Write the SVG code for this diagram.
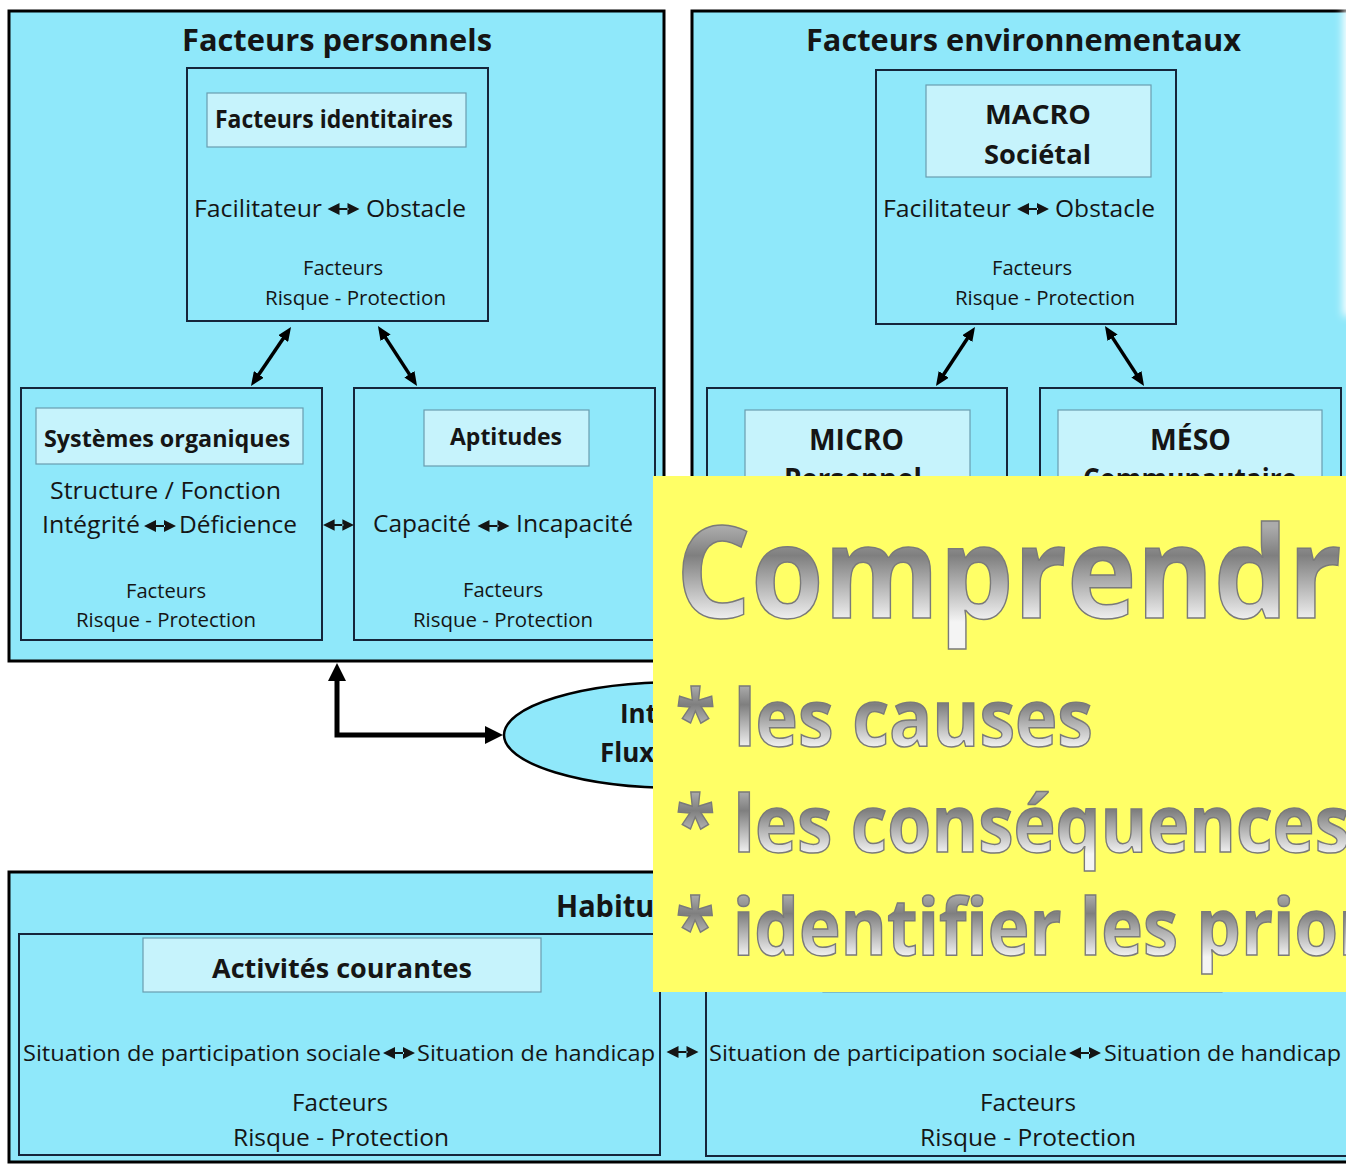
<svg xmlns="http://www.w3.org/2000/svg" width="1346" height="1164" viewBox="0 0 1346 1164">
<style>
.box{fill:#8fe8fa;stroke:#000;stroke-width:3}
.inner{fill:#8fe8fa;stroke:#15253a;stroke-width:2}
.label{fill:#c6f3fc;stroke:#6a9db0;stroke-width:1.2}
text{font-family:"Open Sans","Noto Sans","Liberation Sans",sans-serif;fill:#151515}
.b{font-weight:700}
.s20{font-size:20px}
.s24{font-size:24px}
.big{font-weight:700;stroke:#7a7a7a;stroke-width:1.5}
.con{fill:none;stroke:#000}
</style>
<defs>
<symbol id="dbl" viewBox="0 0 32 12">
<path d="M0,6 L12,0 L12,12 Z M32,6 L20,0 L20,12 Z M11,5 H21 V7 H11 Z" fill="#151515"/>
</symbol>
<marker id="mh" viewBox="0 0 14 12" refX="4" refY="6" markerWidth="14" markerHeight="12" markerUnits="userSpaceOnUse" orient="auto-start-reverse">
<path d="M0,0 L14,6 L0,12 Z" fill="#000"/>
</marker>
<marker id="bh" viewBox="0 0 18 18" refX="6" refY="9" markerWidth="18" markerHeight="18" markerUnits="userSpaceOnUse" orient="auto-start-reverse">
<path d="M0,0 L18,9 L0,18 Z" fill="#000"/>
</marker>
<linearGradient id="g1" gradientUnits="userSpaceOnUse" x1="0" y1="527" x2="0" y2="622">
<stop offset="0" stop-color="#ababab"/><stop offset="0.3" stop-color="#7f7f7f"/><stop offset="1" stop-color="#f4f4f4"/>
</linearGradient>
<linearGradient id="g2" gradientUnits="userSpaceOnUse" x1="0" y1="686" x2="0" y2="748">
<stop offset="0" stop-color="#ababab"/><stop offset="0.3" stop-color="#7f7f7f"/><stop offset="1" stop-color="#f4f4f4"/>
</linearGradient>
<linearGradient id="g3" gradientUnits="userSpaceOnUse" x1="0" y1="792" x2="0" y2="854">
<stop offset="0" stop-color="#ababab"/><stop offset="0.3" stop-color="#7f7f7f"/><stop offset="1" stop-color="#f4f4f4"/>
</linearGradient>
<linearGradient id="g4" gradientUnits="userSpaceOnUse" x1="0" y1="895" x2="0" y2="957">
<stop offset="0" stop-color="#ababab"/><stop offset="0.3" stop-color="#7f7f7f"/><stop offset="1" stop-color="#f4f4f4"/>
</linearGradient>
<filter id="blur" x="-1" y="-0.2" width="3" height="1.4"><feGaussianBlur stdDeviation="4"/></filter>
</defs>
<rect width="1346" height="1164" fill="#fff"/>

<g id="facteurs-personnels">
<rect class="box" x="9" y="11" width="655" height="650"/>
<text class="b" x="182" y="51" font-size="30" textLength="310" lengthAdjust="spacingAndGlyphs">Facteurs personnels</text>
</g>

<g id="facteurs-identitaires">
<rect class="inner" x="187" y="68" width="301" height="253"/>
<rect class="label" x="207" y="93" width="259" height="54"/>
<text class="b" x="215" y="128" font-size="25" textLength="238" lengthAdjust="spacingAndGlyphs">Facteurs identitaires</text>
<text x="194" y="217" font-size="23.5" textLength="128" lengthAdjust="spacingAndGlyphs">Facilitateur</text>
<use href="#dbl" x="327" y="203" width="33" height="12"/>
<text x="366" y="217" font-size="23.5" textLength="100" lengthAdjust="spacingAndGlyphs">Obstacle</text>
<text x="303" y="275" font-size="19.5" textLength="80" lengthAdjust="spacingAndGlyphs">Facteurs</text>
<text x="265" y="305" font-size="19.5" textLength="181" lengthAdjust="spacingAndGlyphs">Risque - Protection</text>
</g>

<g id="systemes-organiques">
<rect class="inner" x="21" y="388" width="301" height="252"/>
<rect class="label" x="36" y="408" width="267" height="56"/>
<text class="b s24" x="44" y="447" textLength="246" lengthAdjust="spacingAndGlyphs">Systèmes organiques</text>
<text class="s24" x="50" y="499" textLength="231" lengthAdjust="spacingAndGlyphs">Structure / Fonction</text>
<text class="s24" x="42" y="533" textLength="98" lengthAdjust="spacingAndGlyphs">Intégrité</text>
<use href="#dbl" x="143" y="520" width="34" height="12"/>
<text class="s24" x="179" y="533" textLength="118" lengthAdjust="spacingAndGlyphs">Déficience</text>
<text class="s20" x="126" y="598" textLength="80" lengthAdjust="spacingAndGlyphs">Facteurs</text>
<text class="s20" x="76" y="627" textLength="180" lengthAdjust="spacingAndGlyphs">Risque - Protection</text>
</g>

<g id="aptitudes">
<rect class="inner" x="354" y="388" width="301" height="252"/>
<rect class="label" x="424" y="410" width="165" height="56"/>
<text class="b s24" x="450" y="445" textLength="112" lengthAdjust="spacingAndGlyphs">Aptitudes</text>
<text class="s24" x="373" y="532" textLength="98" lengthAdjust="spacingAndGlyphs">Capacité</text>
<use href="#dbl" x="476" y="520" width="35" height="12"/>
<text class="s24" x="516" y="532" textLength="117" lengthAdjust="spacingAndGlyphs">Incapacité</text>
<text class="s20" x="463" y="597" textLength="80" lengthAdjust="spacingAndGlyphs">Facteurs</text>
<text class="s20" x="413" y="627" textLength="180" lengthAdjust="spacingAndGlyphs">Risque - Protection</text>
</g>

<g id="facteurs-environnementaux">
<rect class="box" x="692" y="11" width="680" height="650"/>
<text class="b" x="806" y="51" font-size="30" textLength="435" lengthAdjust="spacingAndGlyphs">Facteurs environnementaux</text>
</g>

<g id="macro">
<rect class="inner" x="876" y="70" width="300" height="254"/>
<rect class="label" x="926" y="85" width="225" height="92"/>
<text class="b" x="985" y="124" font-size="27" textLength="106" lengthAdjust="spacingAndGlyphs">MACRO</text>
<text class="b" x="984" y="164" font-size="27" textLength="107" lengthAdjust="spacingAndGlyphs">Sociétal</text>
<text x="883" y="217" font-size="23.5" textLength="128" lengthAdjust="spacingAndGlyphs">Facilitateur</text>
<use href="#dbl" x="1016" y="203" width="34" height="12"/>
<text x="1055" y="217" font-size="23.5" textLength="100" lengthAdjust="spacingAndGlyphs">Obstacle</text>
<text x="992" y="275" font-size="19.5" textLength="80" lengthAdjust="spacingAndGlyphs">Facteurs</text>
<text x="955" y="305" font-size="19.5" textLength="180" lengthAdjust="spacingAndGlyphs">Risque - Protection</text>
</g>

<g id="micro">
<rect class="inner" x="707" y="388" width="300" height="252"/>
<rect class="label" x="745" y="410" width="225" height="92"/>
<text class="b" x="809" y="450" font-size="28" textLength="95" lengthAdjust="spacingAndGlyphs">MICRO</text>
<text class="b" x="784" y="489" font-size="28" textLength="138" lengthAdjust="spacingAndGlyphs">Personnel</text>
</g>

<g id="meso">
<rect class="inner" x="1040" y="388" width="301" height="252"/>
<rect class="label" x="1058" y="410" width="264" height="92"/>
<text class="b" x="1150" y="450" font-size="28" textLength="81" lengthAdjust="spacingAndGlyphs">MÉSO</text>
<text class="b" x="1083" y="489" font-size="28" textLength="214" lengthAdjust="spacingAndGlyphs">Communautaire</text>
</g>

<g id="interaction">
<ellipse cx="680" cy="735" rx="176" ry="53" fill="#8fe8fa" stroke="#000" stroke-width="2.5"/>
<text class="b" x="620" y="723" font-size="26">Interaction</text>
<text class="b" x="600" y="762" font-size="26">Flux</text>
</g>

<g id="habitudes-de-vie">
<rect class="box" x="9" y="872" width="1360" height="290"/>
<text class="b" x="556" y="917" font-size="31" textLength="241" lengthAdjust="spacingAndGlyphs">Habitudes de vie</text>
</g>

<g id="activites-courantes">
<rect class="inner" x="19" y="934" width="641" height="221"/>
<rect class="label" x="143" y="938" width="398" height="54"/>
<text class="b" x="212" y="978" font-size="27" textLength="260" lengthAdjust="spacingAndGlyphs">Activités courantes</text>
<text x="23" y="1061" font-size="22.5" textLength="358" lengthAdjust="spacingAndGlyphs">Situation de participation sociale</text>
<use href="#dbl" x="383" y="1047" width="32" height="12"/>
<text x="417" y="1061" font-size="22.5" textLength="238" lengthAdjust="spacingAndGlyphs">Situation de handicap</text>
<text class="s24" x="292" y="1111" textLength="96" lengthAdjust="spacingAndGlyphs">Facteurs</text>
<text class="s24" x="233" y="1146" textLength="216" lengthAdjust="spacingAndGlyphs">Risque - Protection</text>
</g>

<g id="roles-sociaux">
<rect class="inner" x="706" y="934" width="660" height="222"/>
<rect class="label" x="823" y="938" width="399" height="54"/>
<text x="709" y="1061" font-size="22.5" textLength="358" lengthAdjust="spacingAndGlyphs">Situation de participation sociale</text>
<use href="#dbl" x="1069" y="1047" width="32" height="12"/>
<text x="1104" y="1061" font-size="22.5" textLength="237" lengthAdjust="spacingAndGlyphs">Situation de handicap</text>
<text class="s24" x="980" y="1111" textLength="96" lengthAdjust="spacingAndGlyphs">Facteurs</text>
<text class="s24" x="920" y="1146" textLength="216" lengthAdjust="spacingAndGlyphs">Risque - Protection</text>
</g>

<g id="connectors">
<line class="con" stroke-width="3.5" x1="285.4" y1="335.3" x2="256.6" y2="377.7" marker-start="url(#mh)" marker-end="url(#mh)"/>
<line class="con" stroke-width="3.5" x1="383.4" y1="334.4" x2="411.6" y2="377.6" marker-start="url(#mh)" marker-end="url(#mh)"/>
<line class="con" stroke-width="3.5" x1="969.5" y1="335.3" x2="941.5" y2="377.7" marker-start="url(#mh)" marker-end="url(#mh)"/>
<line class="con" stroke-width="3.5" x1="1110.4" y1="334.4" x2="1138.6" y2="377.6" marker-start="url(#mh)" marker-end="url(#mh)"/>
<use href="#dbl" x="323" y="519" width="31" height="12"/>
<use href="#dbl" x="666" y="1046" width="33" height="12"/>
<path class="con" stroke-width="5" d="M337,675 V735 H491" marker-start="url(#bh)" marker-end="url(#bh)"/>
</g>

<rect x="1343" y="8" width="30" height="308" fill="#fff" filter="url(#blur)"/>

<g id="overlay">
<rect x="653" y="476" width="700" height="516" fill="#ffff66"/>
<text class="big" x="676" y="618" font-size="127" style="fill:url(#g1)" textLength="735" lengthAdjust="spacingAndGlyphs">Comprendre</text>
<text class="big" x="676" y="746" font-size="79" style="fill:url(#g2)" textLength="417" lengthAdjust="spacingAndGlyphs">* les causes</text>
<text class="big" x="676" y="852" font-size="79" style="fill:url(#g3)" textLength="674" lengthAdjust="spacingAndGlyphs">* les conséquences</text>
<text class="big" x="676" y="955" font-size="79" style="fill:url(#g4)" textLength="823" lengthAdjust="spacingAndGlyphs">* identifier les priorités</text>
</g>
</svg>
